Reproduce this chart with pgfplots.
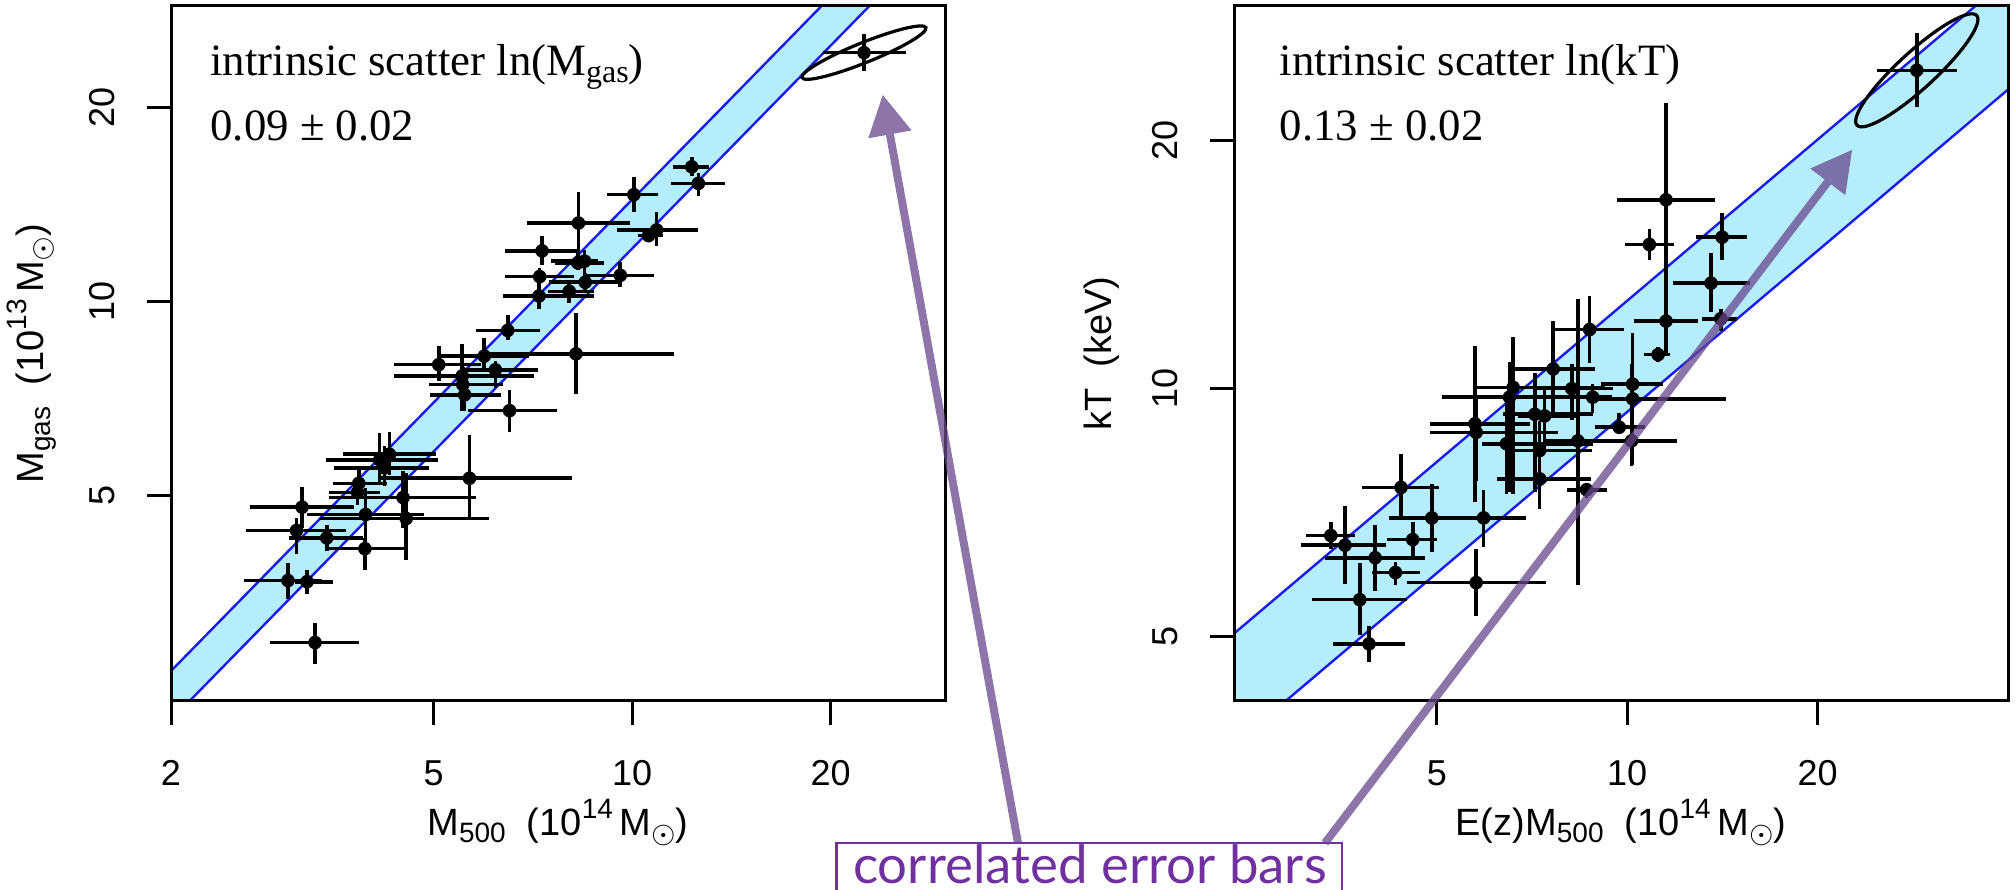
\documentclass[border=0pt]{standalone}
\usepackage{pgfplots}
\pgfplotsset{compat=1.18}
\usepackage{pgfplotstable}
\usetikzlibrary{arrows.meta}
\usepackage{fontspec}
\setmainfont{Liberation Sans}
\newfontfamily\serifann{Liberation Serif}
\newfontfamily\callout{Lato}

\definecolor{bandfill}{HTML}{B5EDFC}
\definecolor{bandline}{HTML}{1A1AF5}
\definecolor{callpurple}{HTML}{7030A0}
\definecolor{arrowpurple}{HTML}{68478C}

% lowered / raised small text: size, content
\newcommand{\lowtext}[2]{\raisebox{-0.35ex}{\fontsize{#1}{#1}\selectfont #2}}
\newcommand{\hightext}[2]{\raisebox{0.85ex}{\fontsize{#1}{#1}\selectfont #2}}

% gas mass vs total mass: value, error-bar ends
\pgfplotstableread{
x     y     xlo   xhi   ylo   yhi
22.46 24.30 19.45 25.99 22.73 25.93
12.31 16.17 11.54 13.07 15.65 16.73
12.60 15.24 11.44 13.82 14.55 15.81
10.06 14.64 9.172 10.96 13.78 15.62
8.290 13.23 6.940 9.930 11.48 14.79
10.89 12.91 9.471 12.58 12.20 13.78
10.59 12.65 10.21 11.13 12.37 13.02
7.303 11.98 6.408 8.272 11.41 12.63
8.470 11.55 7.526 8.880 11.07 12.00
8.272 11.48 7.640 9.074 11.18 11.88
9.594 10.98 8.416 10.80 10.52 11.50
7.241 10.93 6.408 8.167 10.52 11.29
8.489 10.71 7.478 9.512 10.31 11.07
8.028 10.37 7.446 8.766 9.959 10.78
7.225 10.20 6.367 8.766 9.739 10.78
6.477 9.019 5.791 7.256 8.713 9.543
8.219 8.298 6.098 11.59 7.185 9.602
5.968 8.231 5.135 6.985 7.887 8.784
5.091 7.985 4.362 5.904 7.529 8.538
6.204 7.841 5.489 7.194 7.348 8.083
5.525 7.668 4.352 7.090 6.763 8.590
5.537 7.438 4.920 6.367 6.987 7.919
5.573 7.171 4.931 6.326 6.763 7.715
6.519 6.776 5.644 7.706 6.287 7.303
4.287 5.799 3.641 5.037 5.389 6.287
4.143 5.683 3.437 5.070 5.259 6.249
4.215 5.524 3.527 4.920 5.175 5.965
5.668 5.324 4.143 8.097 4.591 6.211
3.852 5.228 3.519 4.251 4.990 5.524
3.835 5.062 3.474 4.143 4.842 5.324
4.495 4.970 3.474 5.804 4.454 5.457
3.160 4.802 2.633 3.786 4.454 5.154
3.944 4.677 3.215 4.836 4.303 5.133
4.544 4.611 3.364 6.072 3.984 5.424
3.099 4.418 2.599 3.690 4.066 4.620
3.444 4.303 3.014 3.909 4.107 4.509
3.935 4.141 3.437 4.534 3.841 4.303
3.008 3.696 2.583 3.393 3.457 3.936
3.215 3.681 3.086 3.519 3.521 3.841
3.306 2.963 2.827 3.852 2.749 3.182
}\gasdata

% temperature vs E(z) M500: value, error-bar ends
\pgfplotstableread{
x     y     xlo   xhi   ylo   yhi
28.70 24.31 24.80 33.20 21.93 26.95
11.52 16.93 9.626 13.78 12.93 22.17
11.52 12.06 10.25 12.94 11.00 13.14
10.84 14.94 9.933 11.86 14.29 15.62
14.13 15.25 12.86 15.49 14.29 16.30
13.57 13.41 11.81 15.63 12.37 14.59
14.06 12.14 13.15 14.94 11.74 12.49
11.19 10.98 10.65 11.70 10.76 11.21
8.723 11.78 7.656 9.888 10.74 12.95
7.639 10.55 6.604 8.879 9.222 12.06
10.20 10.11 9.101 11.39 8.060 11.68
10.20 9.703 8.800 14.35 8.836 10.60
8.820 9.749 8.320 9.455 9.340 10.11
8.172 9.984 7.190 9.497 9.135 10.71
6.604 10.02 5.707 9.224 7.445 11.53
6.515 9.749 5.091 8.939 7.481 10.77
5.745 9.050 4.879 7.019 7.270 11.26
5.771 8.836 4.879 7.778 7.722 9.796
7.142 9.295 6.372 8.839 7.481 10.44
7.403 9.251 6.723 8.414 8.360 9.952
6.443 8.560 5.889 8.839 7.445 9.657
7.272 8.400 6.501 8.800 7.600 9.121
8.357 8.628 7.353 8.800 5.760 12.83
9.713 8.963 8.879 10.67 8.836 9.340
10.16 8.628 8.626 11.97 8.048 10.71
7.272 7.759 6.215 8.780 7.132 8.360
8.626 7.528 8.045 9.307 7.363 7.661
4.390 7.576 3.804 5.034 6.968 8.320
4.911 6.957 4.207 5.325 6.324 7.649
5.929 6.957 5.057 6.909 6.415 7.528
3.400 6.622 3.108 3.709 6.384 6.880
3.580 6.445 3.052 4.160 5.778 7.189
4.581 6.548 4.169 5.000 6.234 6.880
3.996 6.224 3.325 4.791 5.678 6.814
4.302 5.972 3.943 4.696 5.760 6.155
3.778 5.535 3.178 4.489 5.008 6.136
5.771 5.806 4.489 7.436 5.294 6.384
3.907 4.892 3.430 4.459 4.648 5.145
}\tempdata

\begin{document}
\begin{tikzpicture}
\useasboundingbox (0,0) rectangle (504pt,222.5pt);

% ---- gas mass panel ----
\begin{axis}[
  at={(42.75pt,47.25pt)}, anchor=south west,
  scale only axis, width=193.5pt, height=173.75pt,
  xmode=log, ymode=log, axis on top,
  xmin=2, xmax=29.8, ymin=2.405, ymax=28.7,
  tick align=outside, tick pos=left, major tick length=6pt,
  xtick={2,5,10,20}, xticklabels={2,5,10,20},
  ytick={5,10,20}, yticklabels={5,10,20},
  minor xtick={}, minor ytick={},
  axis line style={line width=0.75pt},
  every tick/.style={line width=0.75pt, black},
  tick label style={font=\fontsize{9}{10}\selectfont},
  xticklabel style={anchor=center, yshift=-12pt},
  yticklabel style={xshift=-11.2pt, rotate=90, anchor=center},
  label style={font=\fontsize{9.5}{11}\selectfont},
  xlabel={M\lowtext{7}{500}\ \ (10\hightext{7}{14}\,M\lowtext{7}{$\odot$})},
  ylabel={M\lowtext{7}{gas}\ \ (10\hightext{7}{13}\,M\lowtext{7}{$\odot$})},
  xlabel style={at={(axis description cs:0.5,-0.175)}, anchor=center},
  ylabel style={at={(axis description cs:-0.18,0.5)}, rotate=0, anchor=center},
]
\addplot[draw=none, fill=bandfill, mark=none] coordinates {(1.5,1.982) (40,61.25) (40,51.43) (1.5,1.664)} -- cycle;
\addplot[bandline, line width=0.6pt, mark=none] coordinates {(1.5,1.982) (40,61.25)};
\addplot[bandline, line width=0.6pt, mark=none] coordinates {(1.5,1.664) (40,51.43)};
\addplot[black, only marks, mark=*, mark size=1.5pt,
  mark options={fill=black, draw=black},
  error bars/x dir=both, error bars/x explicit,
  error bars/y dir=both, error bars/y explicit,
  error bars/error mark=none,
  error bars/error bar style={line width=0.9pt, black}]
  table[x=x, y=y,
  x error plus expr=\thisrow{xhi}-\thisrow{x},
  x error minus expr=\thisrow{x}-\thisrow{xlo},
  y error plus expr=\thisrow{yhi}-\thisrow{y},
  y error minus expr=\thisrow{y}-\thisrow{ylo}] {\gasdata};
\draw[line width=0.8pt, rotate around={22:(axis cs:22.46,24.30)}]
  (axis cs:22.46,24.30) ellipse (16.7pt and 2.5pt);
\node[anchor=base west, inner sep=0pt, font=\serifann\fontsize{11.2}{13}\selectfont]
  at (rel axis cs:0.050,0.9007) {intrinsic scatter ln(M\lowtext{8}{gas})};
\node[anchor=base west, inner sep=0pt, font=\serifann\fontsize{11.2}{13}\selectfont]
  at (rel axis cs:0.050,0.807) {0.09 ± 0.02};
\end{axis}

% ---- temperature panel ----
\begin{axis}[
  at={(308.5pt,47.25pt)}, anchor=south west,
  scale only axis, width=193.5pt, height=173.75pt,
  xmode=log, ymode=log, axis on top,
  xmin=2.39, xmax=40, ymin=4.17, ymax=29.1,
  tick align=outside, tick pos=left, major tick length=6pt,
  xtick={5,10,20}, xticklabels={5,10,20},
  ytick={5,10,20}, yticklabels={5,10,20},
  minor xtick={}, minor ytick={},
  axis line style={line width=0.75pt},
  every tick/.style={line width=0.75pt, black},
  tick label style={font=\fontsize{9}{10}\selectfont},
  xticklabel style={anchor=center, yshift=-12pt},
  yticklabel style={xshift=-11.2pt, rotate=90, anchor=center},
  label style={font=\fontsize{9.5}{11}\selectfont},
  xlabel={E(z)M\lowtext{7}{500}\ \ (10\hightext{7}{14}\,M\lowtext{7}{$\odot$})},
  ylabel={kT\ \ (keV)},
  xlabel style={at={(axis description cs:0.5,-0.175)}, anchor=center},
  ylabel style={at={(axis description cs:-0.1705,0.5)}, rotate=0, anchor=center},
]
\addplot[draw=none, fill=bandfill, mark=none] coordinates {(1.5,3.720) (50,36.34) (50,26.63) (1.5,2.726)} -- cycle;
\addplot[bandline, line width=0.6pt, mark=none] coordinates {(1.5,3.720) (50,36.34)};
\addplot[bandline, line width=0.6pt, mark=none] coordinates {(1.5,2.726) (50,26.63)};
\addplot[black, only marks, mark=*, mark size=1.5pt,
  mark options={fill=black, draw=black},
  error bars/x dir=both, error bars/x explicit,
  error bars/y dir=both, error bars/y explicit,
  error bars/error mark=none,
  error bars/error bar style={line width=0.9pt, black}]
  table[x=x, y=y,
  x error plus expr=\thisrow{xhi}-\thisrow{x},
  x error minus expr=\thisrow{x}-\thisrow{xlo},
  y error plus expr=\thisrow{yhi}-\thisrow{y},
  y error minus expr=\thisrow{y}-\thisrow{ylo}] {\tempdata};
\draw[line width=0.8pt, rotate around={42.5:(axis cs:28.70,24.31)}]
  (axis cs:28.70,24.31) ellipse (20.3pt and 4.6pt);
\node[anchor=base west, inner sep=0pt, font=\serifann\fontsize{11.2}{13}\selectfont]
  at (rel axis cs:0.058,0.9007) {intrinsic scatter ln(kT)};
\node[anchor=base west, inner sep=0pt, font=\serifann\fontsize{11.2}{13}\selectfont]
  at (rel axis cs:0.058,0.807) {0.13 ± 0.02};
\end{axis}

% ---- callout ----
\draw[callpurple, line width=0.6pt] (209.1pt,-2pt) rectangle (335.5pt,11.75pt);
\node[callpurple, anchor=base, inner sep=0pt, font=\callout\fontsize{13.2}{14}\selectfont]
  at (272.5pt,1.7pt) {correlated error bars};
\draw[arrowpurple, opacity=0.75, line width=2pt,
  -{Triangle[length=10pt, width=11pt, line width=0pt]}]
  (254.5pt,11.75pt) -- (220.7pt,198.75pt);
\draw[arrowpurple, opacity=0.75, line width=2pt,
  -{Triangle[length=10pt, width=11pt, line width=0pt]}]
  (331.25pt,11.75pt) -- (463pt,185pt);
\end{tikzpicture}
\end{document}
